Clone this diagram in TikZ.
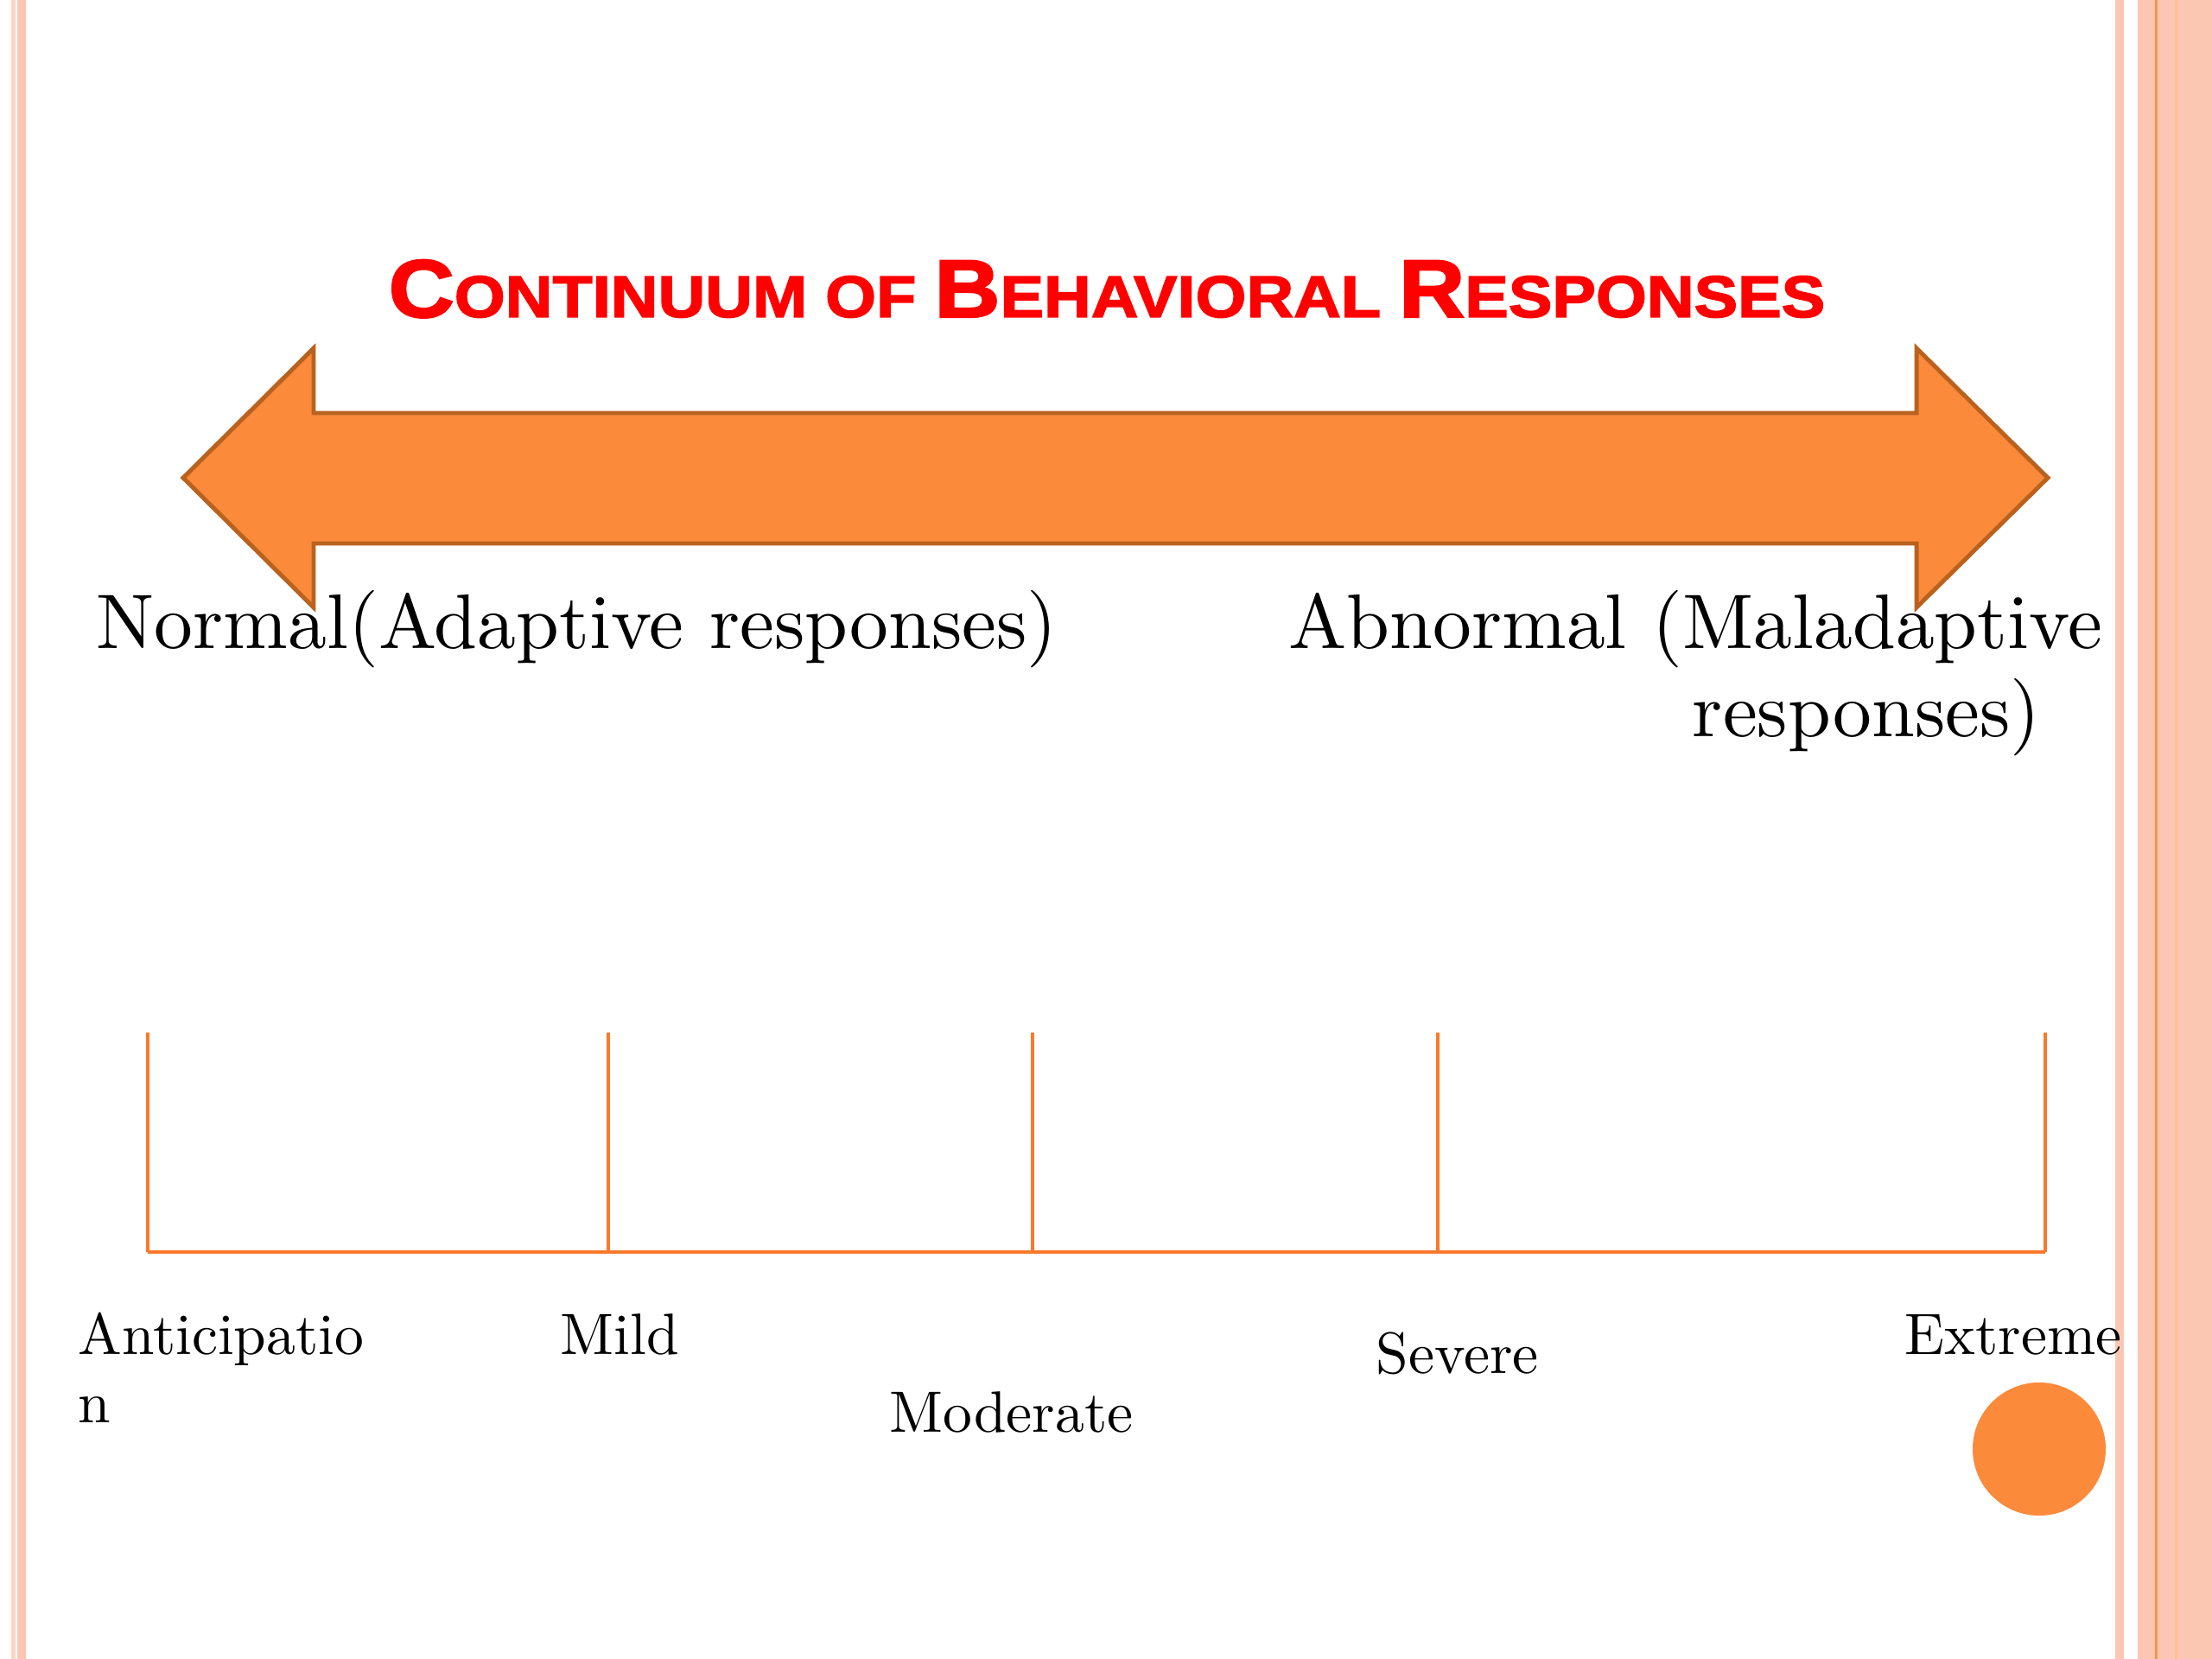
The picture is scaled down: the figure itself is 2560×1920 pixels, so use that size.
\documentclass[tikz,border=0pt]{standalone}
\usepackage{fontspec}
\setmainfont{lmroman10-regular.otf}
\newfontfamily\titlefont{Liberation Sans}[BoldFeatures={FakeBold=2.2,FakeStretch=1.11}]
\definecolor{arrowfill}{HTML}{FB8A3B}
\definecolor{arrowedge}{HTML}{B9621F}
\definecolor{tickline}{HTML}{F97A2C}
\definecolor{band}{HTML}{FBC7B3}
\definecolor{bandlight}{HTML}{FDD5C6}
\definecolor{bandline}{HTML}{F7934C}
\definecolor{titlered}{HTML}{FF0000}
\newcommand\capbig[1]{{\fontsize{26.7}{30}\selectfont #1}}
\tikzset{
  toplabel/.style={anchor=base west, inner sep=0pt, font=\fontsize{25.2}{30}\selectfont},
  botlabel/.style={anchor=base west, inner sep=0pt, font=\fontsize{19}{23}\selectfont},
  tickstyle/.style={draw=tickline, line width=0.9pt},
}
\begin{document}
\begin{tikzpicture}[x=0.28125pt, y=-0.28125pt]
\useasboundingbox (0,0) rectangle (2560,1920);
\fill[white] (0,0) rectangle (2560,1920);
% borders
\fill[bandlight] (13,0) rectangle (18,1920);
\fill[band] (20,0) rectangle (30,1920);
\fill[band] (2448,0) rectangle (2458,1920);
\fill[band] (2474,0) rectangle (2560,1920);
\fill[bandline] (2494,0) rectangle (2497,1920);
\fill[band!90!orange] (2517,0) rectangle (2521,1920);
% title
\node[anchor=base west, inner sep=0pt, text=titlered] (title) at (449,367)
  {\titlefont\bfseries\fontsize{19.2}{22}\selectfont \capbig{C}ONTINUUM OF \capbig{B}EHAVIORAL \capbig{R}ESPONSES};
% double arrow
\draw[fill=arrowfill, draw=arrowedge, line width=1.4pt, line join=miter]
  (212,553) -- (363,403) -- (363,478) -- (2218,478) -- (2218,403) -- (2370,553)
  -- (2218,703) -- (2218,629) -- (363,629) -- (363,703) -- cycle;
% top labels
\node[toplabel] (normal) at (111,751) {Normal(Adaptive responses)};
\node[toplabel] (abn1) at (1491,751) {Abnormal (Maladaptive};
\node[toplabel, anchor=base east] (abn2) at (2362,852) {responses)};
% scale bracket
\coordinate (t1) at (171,1195); \coordinate (b1) at (171,1449);
\coordinate (t2) at (704,1195); \coordinate (b2) at (704,1449);
\coordinate (t3) at (1195,1195); \coordinate (b3) at (1195,1449);
\coordinate (t4) at (1664,1195); \coordinate (b4) at (1664,1449);
\coordinate (t5) at (2367,1195); \coordinate (b5) at (2367,1449);
\draw[tickstyle] (b1) -- (b5);
\foreach \i in {1,...,5} \draw[tickstyle] (t\i) -- (b\i);
% bottom labels
\node[botlabel] (antic1) at (90,1567) {Anticipatio};
\node[botlabel] (antic2) at (90,1646) {n};
\node[botlabel] (mild) at (648,1567) {Mild};
\node[botlabel] (moderate) at (1029,1657) {Moderate};
\node[botlabel] (severe) at (1592,1589) {Severe};
\node[botlabel] (extreme) at (2204,1567) {Extreme};
% circle
\fill[arrowfill] (2360,1677) circle (77);
\end{tikzpicture}
\end{document}
